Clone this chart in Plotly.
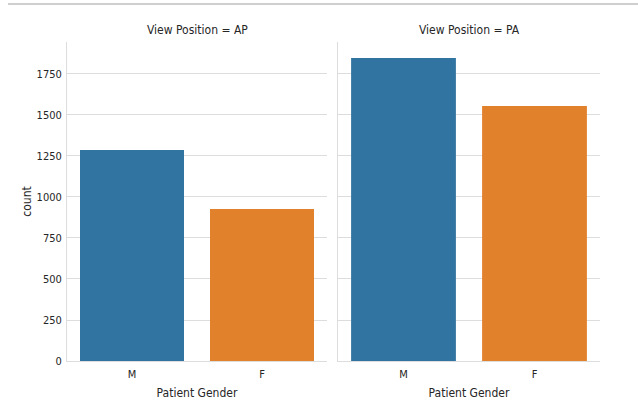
import plotly.graph_objects as go

genders = ["M", "F"]
ap_counts = [1287, 927]
pa_counts = [1848, 1555]
bar_colors = ["#3274a1", "#e1812c"]
panel_titles = ["View Position = AP", "View Position = PA"]
y_ticks = [0, 250, 500, 750, 1000, 1250, 1500, 1750]

FONT = "DejaVu Sans Condensed, DejaVu Sans, sans-serif"
GRID = "#dddddd"
TXT = "#262626"

W, H = 638, 403
L, T = 67, 42
B = H - 361
R = W - 600
pw = W - L - R
ph = H - T - B
d1 = [0, (327 - L) / pw]
d2 = [(338 - L) / pw, 1.0]

fig = go.Figure()
for i, (vals, dom) in enumerate([(ap_counts, d1), (pa_counts, d2)]):
    xa = "x" if i == 0 else "x2"
    ya = "y" if i == 0 else "y2"
    fig.add_trace(go.Bar(x=genders, y=vals, marker=dict(color=bar_colors, line=dict(width=0)),
                         width=0.8, xaxis=xa, yaxis=ya, showlegend=False))
    axkey = "" if i == 0 else "2"
    fig.update_layout(**{
        "xaxis" + axkey: dict(domain=dom, anchor=ya, range=[-0.5, 1.5], showgrid=False,
                              showline=True, linecolor=GRID, linewidth=1, ticks="",
                              ticklabelstandoff=3,
                              tickfont=dict(family=FONT, size=11, color=TXT),
                              title=dict(text="Patient Gender", font=dict(family=FONT, size=12, color=TXT), standoff=8),
                              fixedrange=True, zeroline=False),
        "yaxis" + axkey: dict(anchor=xa, range=[0, 1945], tickvals=y_ticks, showgrid=True,
                              gridcolor=GRID, gridwidth=1, showline=True, linecolor=GRID, linewidth=1,
                              ticks="", showticklabels=(i == 0), zeroline=False,
                              ticklabelstandoff=2,
                              tickfont=dict(family=FONT, size=11, color=TXT),
                              title=dict(text="count" if i == 0 else "", font=dict(family=FONT, size=12, color=TXT), standoff=2)),
    })
    fig.add_annotation(text=panel_titles[i], xref="paper", yref="paper",
                       x=(dom[0] + dom[1]) / 2, y=1 + (T - 30) / ph,
                       showarrow=False, font=dict(family=FONT, size=12, color=TXT),
                       xanchor="center", yanchor="middle")

fig.add_shape(type="line", xref="paper", yref="paper",
              x0=(8 - L) / pw, x1=(640 - L) / pw,
              y0=(361 - 4) / ph, y1=(361 - 4) / ph,
              line=dict(color="#cfcfcf", width=2))

fig.update_layout(width=W, height=H, margin=dict(l=L, r=R, t=T, b=B, autoexpand=False),
                  plot_bgcolor="white", paper_bgcolor="white", bargap=0.2)
fig.write_html("out.html", config={"displayModeBar": False},
               post_script="document.body.style.margin='0';document.body.style.overflow='hidden';")
